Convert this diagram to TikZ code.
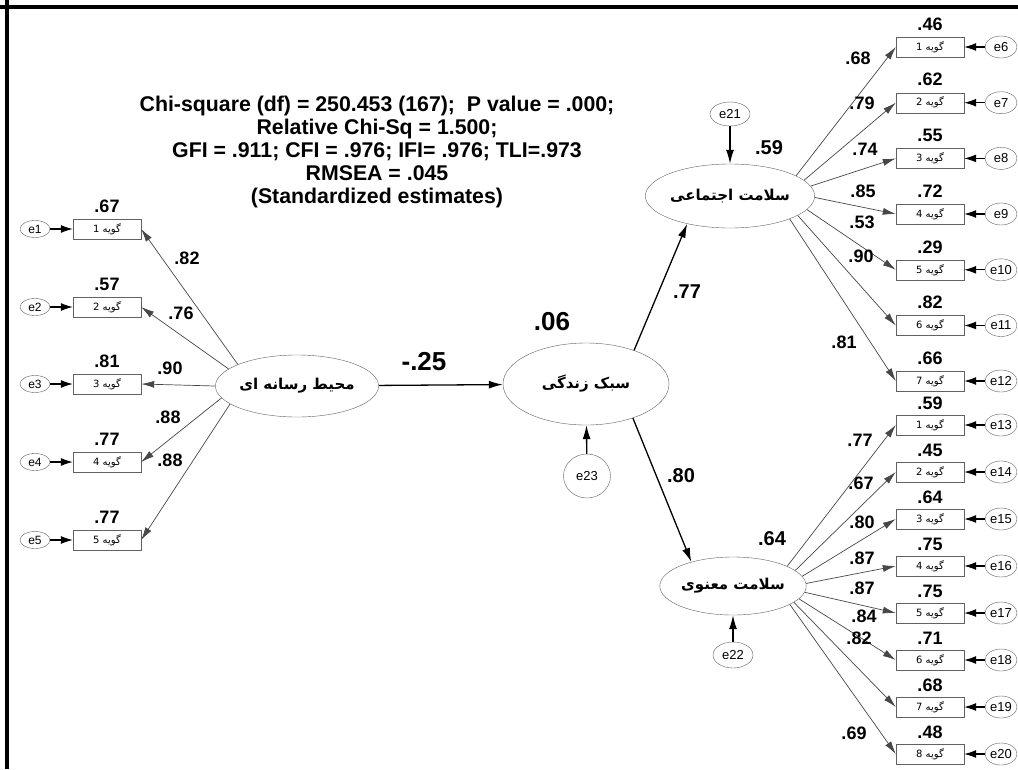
\documentclass[tikz,border=0pt]{standalone}
\usepackage{fontspec}
\setmainfont{Liberation Sans}
\newfontfamily\arabicfont[Script=Arabic]{DejaVu Sans}
\TeXXeTstate=1
\usetikzlibrary{arrows.meta,shapes.geometric}
\tikzset{
  obs/.style={draw=black!62, rectangle, minimum width=68pt, minimum height=20pt, inner sep=0pt, font=\arabicfont\fontsize{10}{11}\selectfont},
  errl/.style={draw=black!62, ellipse, minimum width=30pt, minimum height=17pt, inner sep=0pt, font=\fontsize{12}{13}\selectfont},
  errr/.style={draw=black!62, ellipse, minimum width=32pt, minimum height=22pt, inner sep=0pt, font=\fontsize{13}{14}\selectfont},
  errc/.style={draw=black!62, ellipse, inner sep=0pt, font=\fontsize{13}{14}\selectfont},
  lat/.style={draw=black!62, ellipse, inner sep=0pt, font=\arabicfont\bfseries\fontsize{15}{16}\selectfont},
  val/.style={font=\rmfamily\bfseries\fontsize{18}{19}\selectfont, inner sep=0pt},
  bigval/.style={font=\rmfamily\bfseries\fontsize{26}{27}\selectfont, inner sep=0pt},
  midval/.style={font=\rmfamily\bfseries\fontsize{20}{21}\selectfont, inner sep=0pt},
  ld/.style={draw=black!72, line width=0.7pt, -{Latex[length=13pt,width=7pt]}},
  eline/.style={draw=black, line width=1.1pt, -{Latex[length=12pt,width=8pt]}},
  st/.style={draw=black, line width=1.3pt, -{Latex[length=14pt,width=8pt]}},
}
\begin{document}
\begin{tikzpicture}[x=1pt,y=-1pt]
\useasboundingbox (0,0) rectangle (1018,769);
\fill[white] (0,0) rectangle (1018,769);
\draw[line width=4pt] (0,7) -- (1018,7);
\draw[line width=4pt] (7,0) -- (7,769);

% fit text
\node[font=\bfseries\fontsize{21.3}{23}\selectfont, align=center, inner sep=0pt] (fit) at (377,152)
 {Chi-square (df) = 250.453 (167);~ P value = .000;\\
  Relative Chi-Sq = 1.500;\\
  GFI = .911; CFI = .976; IFI= .976; TLI=.973\\
  RMSEA = .045\\
  (Standardized estimates)};

% latent variables
\node[lat, minimum width=154pt, minimum height=62pt] (L) at (297,386) {\beginR محیط رسانه ای\endR};
\node[lat, minimum width=166pt, minimum height=82pt] (S) at (586,384) {\beginR سبک زندگی\endR};
\node[lat, minimum width=136pt, minimum height=64pt] (J) at (730,196) {\beginR سلامت اجتماعی\endR};
\node[lat, minimum width=138pt, minimum height=58pt] (M) at (733,586) {\beginR سلامت معنوی\endR};

% disturbances
\node[errc, minimum width=40pt, minimum height=24pt] (e21) at (730,114) {e21};
\node[errc, minimum width=47pt, minimum height=44pt] (e23) at (587,476) {e23};
\node[errc, minimum width=40pt, minimum height=26pt] (e22) at (733,655) {e22};
\draw[st] (e21) -- (J);
\draw[st] (e23) -- (S);
\draw[st] (e22) -- (M);

% structural paths
\draw[st] (L) -- (S);
\draw[st] (S.35) -- (J.213);
\draw[st] (S.-36) -- (M.150);
\node[bigval] (p1) at (424,362) {-.25};
\node[bigval] (r1) at (552,322) {.06};
\node[midval] (r2) at (769,148) {.59};
\node[midval] (r3) at (772,539) {.64};
\node[midval] (p2) at (687,292) {.77};
\node[midval] (p3) at (681,476) {.80};

% left indicators
\foreach \i/\y/\v/\l/\lx/\ly/\ang in {1/229/.67/.82/187/258/160, 2/307/.57/.76/181/313/166, 3/384/.81/.90/170/368/180, 4/462/.77/.88/168/417/189, 5/540/.77/.88/170/460/195} {
  \node[obs] (a\i) at (107,\y) {\beginR گویه \i\endR};
  \node[errl] (ea\i) at (35,\y) {e\i};
  \node[val] (va\i) at (107,\y-23) {\v};
  \draw[eline] (ea\i) -- (a\i);
  \draw[ld] (L.\ang) -- (a\i.east);
  \node[val] (la\i) at (\lx,\ly) {\l};
}

% top-right indicators
\foreach \i/\y/\v/\l/\lx/\ly/\e/\ang in {1/47/.46/.68/858/58/6/17, 2/102.7/.62/.79/862/103/7/12, 3/158.4/.55/.74/865/149/8/7, 4/214/.72/.85/863/191/9/-1, 5/269.8/.29/.53/862/222/10/-10, 6/325.5/.82/.90/861/256/11/-16, 7/381/.66/.81/844/342/12/-21} {
  \node[obs] (b\i) at (930,\y) {\beginR گویه \i\endR};
  \node[errr] (eb\i) at (1001,\y) {e\e};
  \node[val] (vb\i) at (930,\y-23) {\v};
  \draw[eline] (eb\i) -- (b\i);
  \draw[ld] (J.\ang) -- (b\i.west);
  \node[val] (lb\i) at (\lx,\ly) {\l};
}

% bottom-right indicators
\foreach \i/\y/\v/\l/\lx/\ly/\e/\ang in {1/425/.59/.77/860/440/13/20, 2/472/.45/.67/861/483/14/14, 3/519/.64/.80/862/522/15/8, 4/566/.75/.87/862/558/16/2, 5/613/.75/.87/862/588/17/-5, 6/660/.71/.84/864/616/18/-11, 7/707/.68/.82/859/638/19/-15, 8/754/.48/.69/854/733/20/-18} {
  \node[obs] (c\i) at (930,\y) {\beginR گویه \i\endR};
  \node[errr] (ec\i) at (1001,\y) {e\e};
  \node[val] (vc\i) at (930,\y-22) {\v};
  \draw[eline] (ec\i) -- (c\i);
  \draw[ld] (M.\ang) -- (c\i.west);
  \node[val] (lc\i) at (\lx,\ly) {\l};
}
\end{tikzpicture}
\end{document}
